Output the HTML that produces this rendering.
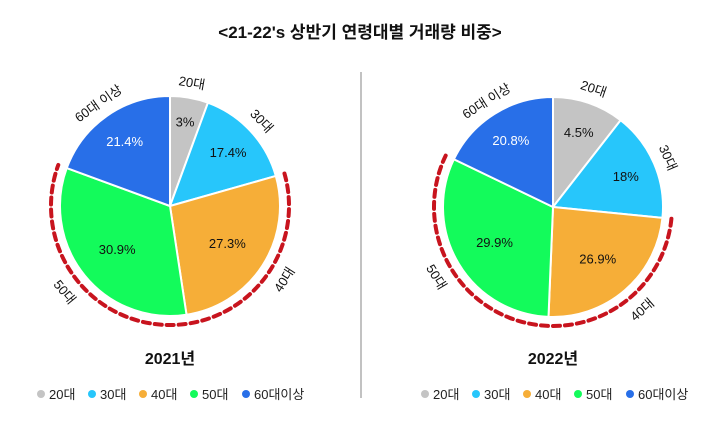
<!DOCTYPE html>
<html><head><meta charset="utf-8">
<style>
html,body{margin:0;padding:0;background:#fff;}
body{width:720px;height:421px;overflow:hidden;font-family:"Liberation Sans","Noto Sans CJK KR",sans-serif;}
</style></head>
<body>
<svg id="chart" width="720" height="421" viewBox="0 0 720 421" xmlns="http://www.w3.org/2000/svg">
<text x="360" y="38" text-anchor="middle" font-size="17" font-weight="bold" fill="#111" font-family="Liberation Sans, Noto Sans CJK KR, sans-serif">&lt;21-22's 상반기 연령대별 거래량 비중&gt;</text>
<line x1="361" y1="72" x2="361" y2="398" stroke="#999" stroke-width="1.2"/>
<g id="pies"></g>
</svg>
<script>
const categories = ['20대','30대','40대','50대','60대 이상'];
const legendLabels = ['20대','30대','40대','50대','60대이상'];
const colors = ['#c4c4c4','#27c6fb','#f6ae38','#13fb5b','#286fe8'];
const values2021 = [5.6, 15, 27, 33, 19.4];
const labels2021 = ['3%','17.4%','27.3%','30.9%','21.4%'];
const values2022 = [10.5, 16, 24, 31.4, 17.8];
const labels2022 = ['4.5%','18%','26.9%','29.9%','20.8%'];
const years = ['2021년','2022년'];

const NS='http://www.w3.org/2000/svg';
const root=document.getElementById('pies');
function mk(tag,attrs,parent){const e=document.createElementNS(NS,tag);for(const k in attrs)e.setAttribute(k,attrs[k]);(parent||root).appendChild(e);return e;}
function pt(cx,cy,r,a){const t=a*Math.PI/180;return [cx+r*Math.sin(t),cy-r*Math.cos(t)];}

function drawPie(cx,cy,R,values,labels,year,legX){
  const g=mk('g',{});
  
  
  const total=values.reduce((a,b)=>a+b,0);
  let a=0; const bounds=[];
  values.forEach((v,i)=>{
    const span=v/total*360, a0=a, a1=a+span; bounds.push([a0,a1]);
    const p0=pt(cx,cy,R,a0), p1=pt(cx,cy,R,a1);
    const p=mk('path',{d:`M${cx},${cy}L${p0[0]},${p0[1]}A${R},${R} 0 ${span>180?1:0} 1 ${p1[0]},${p1[1]}Z`,fill:colors[i],stroke:'#fff','stroke-width':2},g);
    
    
    const mid=(a0+a1)/2;
    const ir=span<30?R*0.78:(span<70?R*0.72:R*0.62);
    const ip=pt(cx,cy,ir,mid);
    const t=mk('text',{x:ip[0],y:ip[1]+5,'text-anchor':'middle','font-size':13,fill:i===4?'#fff':'#111'},g);
    t.textContent=labels[i];
    
    
    const orr=(i===2||i===3)?R+27:R+14;
    const op=pt(cx,cy,orr,mid);
    let rot=(mid<90||mid>270)?(mid>270?mid-360:mid):mid-180;
    const o=mk('text',{x:op[0],y:op[1],'text-anchor':'middle','dominant-baseline':'middle','font-size':13,fill:'#111',transform:`rotate(${rot} ${op[0]} ${op[1]})`},g);
    o.textContent=categories[i];
    
    
    a=a1;
  });
  const rr=R+9, s=bounds[2][0], e=bounds[3][1];
  const q0=pt(cx,cy,rr,s), q1=pt(cx,cy,rr,e);
  const arc=mk('path',{d:`M${q0[0]},${q0[1]}A${rr},${rr} 0 ${e-s>180?1:0} 1 ${q1[0]},${q1[1]}`,fill:'none',stroke:'#c8141e','stroke-width':4,'stroke-dasharray':'7 5','stroke-linecap':'round'},g);
  
  
  const yt=mk('text',{x:cx,y:364,'text-anchor':'middle','font-size':16,'font-weight':'bold',fill:'#111'},g);
  yt.textContent=year;
  
  
  const offs=[0,51,102,153,205];
  legendLabels.forEach((l,i)=>{
    const lg=mk('g',{},g);
    
    
    mk('circle',{cx:legX+offs[i],cy:394,r:4,fill:colors[i]},lg);
    const lt=mk('text',{x:legX+offs[i]+8,y:399,'font-size':13,fill:'#222'},lg);
    lt.textContent=l;
  });
}
drawPie(170,206,110,values2021,labels2021,years[0],41);
drawPie(553,207,110,values2022,labels2022,years[1],425);
</script>
</body></html>
